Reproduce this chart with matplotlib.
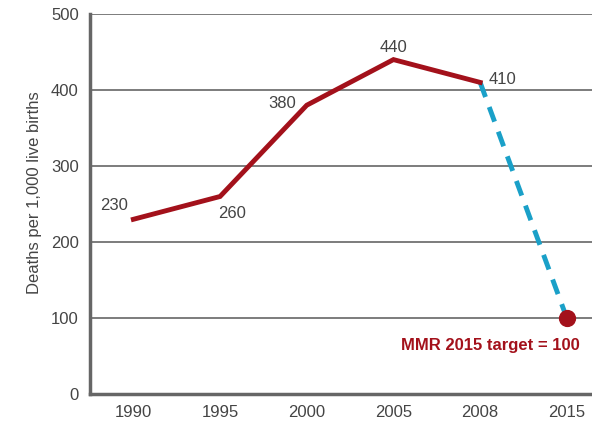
import matplotlib.pyplot as plt
from matplotlib import font_manager

years = ["1990", "1995", "2000", "2005", "2008", "2015"]
actual = [230, 260, 380, 440, 410]
target_year_idx = 5
target_value = 100
yticks = [0, 100, 200, 300, 400, 500]

names = {f.name for f in font_manager.fontManager.ttflist}
fam = "Liberation Sans Narrow" if "Liberation Sans Narrow" in names else "Liberation Sans"
plt.rcParams["font.family"] = [fam, "DejaVu Sans"]

red = "#a3111b"
blue = "#1aa0c8"
grey = "#666666"
txt = "#444444"

fig = plt.figure(figsize=(5.92, 4.23), dpi=100)
ax = fig.add_axes([0.152, 0.068, 0.848, 0.899])

x = list(range(len(years)))
ax.plot([x[4], x[5]], [actual[-1], target_value], color=blue, lw=3.5,
        dashes=(3.2, 2.2), zorder=3)
ax.plot(x[:5], actual, color=red, lw=3.5, solid_joinstyle="miter", zorder=4)
ax.scatter([x[target_year_idx]], [target_value], s=130, color=red, zorder=5)

# label offsets in points from each data point
offsets = [(-14, 10), (9, -12), (-18, 1), (0, 9), (16, 2)]
for xi, v, (dx, dy) in zip(x, actual, offsets):
    ax.annotate(str(v), (xi, v), xytext=(dx, dy), textcoords="offset points",
                ha="center", va="center", fontsize=12, color=txt)

ax.annotate(f"MMR 2015 target = {target_value}", (x[5], target_value),
            xytext=(-55, -20), textcoords="offset points", ha="center",
            va="center", fontsize=12, color=red, fontweight="bold")

ax.set_xlim(-0.5, 5.29)
ax.set_ylim(0, 500)
ax.set_xticks(x)
ax.set_xticklabels(years)
ax.set_yticks(yticks)
ax.tick_params(length=0, labelsize=12, colors=txt, pad=8)
ax.yaxis.grid(True, color=grey, lw=1.2)
ax.set_axisbelow(True)
for s in ["top", "right"]:
    ax.spines[s].set_visible(False)
for s in ["left", "bottom"]:
    ax.spines[s].set_color(grey)
    ax.spines[s].set_linewidth(2.5)
ax.set_ylabel("Deaths per 1,000 live births", fontsize=12, color=txt)
ax.yaxis.set_label_coords(-0.095, 0.53)

fig.savefig("out.png", dpi=100)
